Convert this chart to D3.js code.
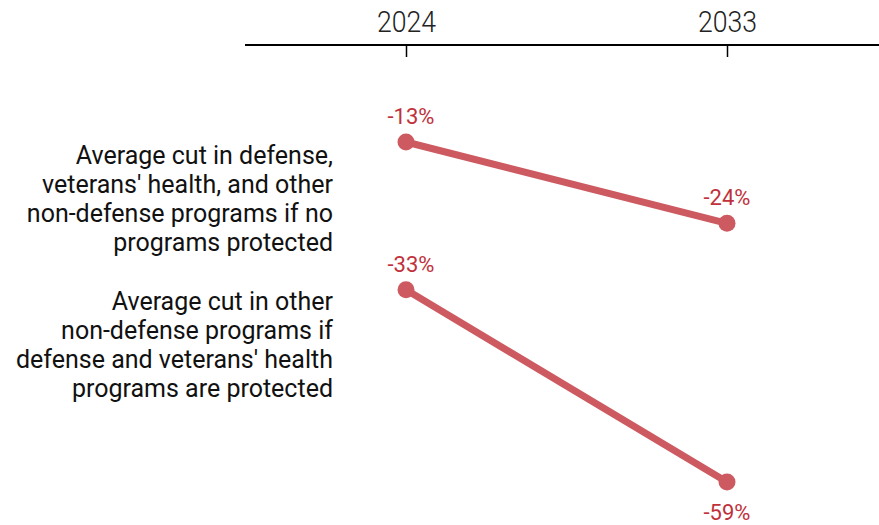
<!DOCTYPE html>
<html>
<head>
<meta charset="utf-8">
<script src="https://cdn.jsdelivr.net/npm/d3@7"></script>
<style>
  body { margin: 0; background: #fff; }
  svg { display: block; }
</style>
</head>
<body>
<div id="chart"></div>
<script>
var years = ["2024", "2033"];
var seriesLabels = [
    ["Average cut in defense,", "veterans' health, and other", "non-defense programs if no", "programs protected"],
    ["Average cut in other", "non-defense programs if", "defense and veterans' health", "programs are protected"]
];
var noProtection = [-13, -24];
var withProtection = [-33, -59];

var width = 879,
    height = 525,
    lineColor = "#cc5a60",
    textColor = "#c0313b";

var svg = d3.select("#chart").append("svg")
    .attr("width", width)
    .attr("height", height);

var x = d3.scalePoint()
    .domain(years)
    .range([406, 727]);

var y = d3.scaleLinear()
    .domain([-13, -59])
    .range([142, 482]);

// top axis
var axis = svg.append("g")
    .attr("transform", "translate(0,45)")
    .call(d3.axisTop(x).tickSize(0).tickPadding(13));
axis.select(".domain").remove();
axis.append("line")
    .attr("x1", 245).attr("x2", width)
    .attr("stroke", "#000").attr("stroke-width", 2);
axis.selectAll(".tick").append("line")
    .attr("y1", 1).attr("y2", 12)
    .attr("stroke", "#000").attr("stroke-width", 1.5);
// condensed look for the years
axis.selectAll(".tick text")
    .attr("fill", "#222")
    .attr("textLength", 59)
    .attr("lengthAdjust", "spacingAndGlyphs")
    .style("font-family", "Roboto, sans-serif")
    .style("font-weight", 300)
    .style("font-size", "30px");

var series = [
    { values: noProtection, labels: seriesLabels[0], labelTop: 155, below: false },
    { values: withProtection, labels: seriesLabels[1], labelTop: 301, below: true }
];

var line = d3.line()
    .x(function (d, i) { return x(years[i]); })
    .y(function (d) { return y(d); });

series.forEach(function (s) {
    var g = svg.append("g");

    g.append("path")
        .datum(s.values)
        .attr("d", line)
        .attr("fill", "none")
        .attr("stroke", lineColor)
        .attr("stroke-width", 7);

    g.selectAll("circle")
        .data(s.values)
        .enter().append("circle")
        .attr("cx", function (d, i) { return x(years[i]); })
        .attr("cy", function (d) { return y(d); })
        .attr("r", 8.5)
        .attr("fill", lineColor);

    g.selectAll("text.val")
        .data(s.values)
        .enter().append("text")
        .attr("class", "val")
        .attr("x", function (d, i) { return x(years[i]) + (i === 0 ? 5 : 0); })
        .attr("y", function (d, i) {
            return (s.below && i === 1) ? y(d) + 38 : y(d) - 18;
        })
        .attr("text-anchor", "middle")
        .attr("fill", textColor)
        .style("font-family", "Roboto, sans-serif")
        .style("font-size", "22px")
        .text(function (d) { return d + "%"; });

    var lab = g.append("text")
        .attr("text-anchor", "end")
        .attr("fill", "#111")
        .style("font-family", "Roboto, sans-serif")
        .style("font-size", "25px");
    lab.selectAll("tspan")
        .data(s.labels)
        .enter().append("tspan")
        .attr("x", 333)
        .attr("y", function (d, i) { return s.labelTop + 9 + i * 29; })
        .text(function (d) { return d; });
});
</script>
</body>
</html>
